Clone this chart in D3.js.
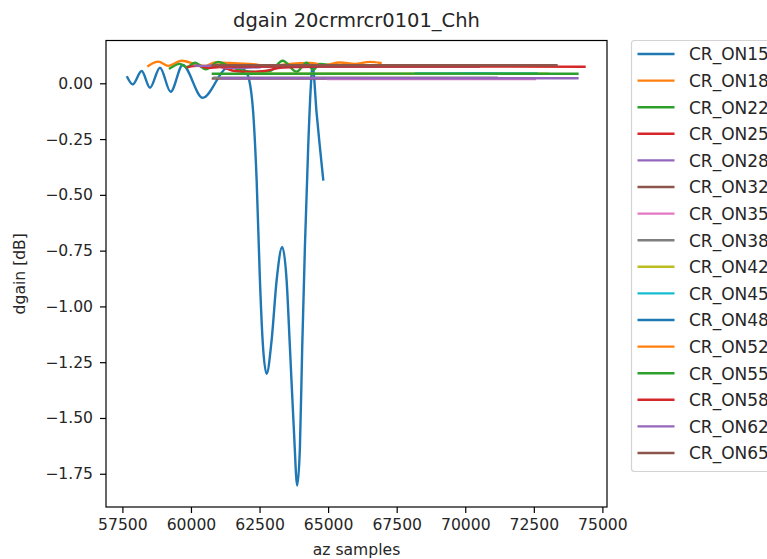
<!DOCTYPE html>
<html>
<head>
<meta charset="utf-8">
<script src="https://cdn.jsdelivr.net/npm/d3@7"></script>
<style>
  html, body { margin: 0; padding: 0; background: #fff; }
  svg { display: block; font-family: "DejaVu Sans", sans-serif; }
</style>
</head>
<body>
<svg id="chart" width="767" height="559"></svg>
<script>
// Gain difference per corner reflector, [az sample, dgain dB]
const cr15 = [[57679,0.027],[57875,-0.005],[58203,0.055],[58506,-0.020],[58870,0.070],[59260,-0.038],
  [59697,0.082],[60426,-0.065],[61301,0.069],[61712,0.078],[62029,0.046],[62124,0.015],[62270,-0.133],
  [62394,-0.434],[62514,-0.883],[62612,-1.152],[62758,-1.302],[62940,-1.152],[63123,-0.883],[63327,-0.733],
  [63487,-0.883],[63607,-1.182],[63753,-1.556],[63873,-1.803],[63972,-1.631],[64056,-1.182],[64154,-0.733],
  [64274,-0.285],[64362,-0.030],[64435,0.078],[64580,-0.133],[64700,-0.285],[64821,-0.431]];
const cr18 = [[58444,0.078],[58808,0.097],[59173,0.078],[59661,0.101],[60146,0.087],[60510,0.078],
  [60874,0.093],[61421,0.091],[62150,0.087],[62878,0.078],[63607,0.087],[64336,0.091],[64882,0.082],
  [65429,0.093],[65975,0.087],[66522,0.096],[66912,0.091]];
const cr22 = [[59235,0.067],[59599,0.087],[59843,0.072],[60146,0.092],[60546,0.063],[60994,0.096],
  [61348,0.078],[61785,0.060],[62332,0.051],[62878,0.055],[63341,0.101],[63851,0.052],[64216,0.092],
  [64457,0.060],[64700,0.087],[65000,0.082]];
const cr25 = [[59890,0.073],[60255,0.078],[60619,0.069],[61056,0.073],[61603,0.055],[62150,0.051],
  [62696,0.055],[63243,0.069],[63790,0.073],[64500,0.074]];
const cr28 = [[60146,0.079],[60510,0.078],[60802,0.080],[61130,0.073],[61603,0.069],[62500,0.072]];
const cr32 = [[60800,0.0215],[64500,0.0212],[68000,0.0210]];
const cr35 = [[65000,0.0185],[68800,0.0187],[72535,0.0185]];
const cr38 = [[60850,0.0256],[66000,0.0254],[71140,0.0255]];
const cr42 = [[62000,0.0430],[67500,0.0431],[73000,0.0430]];
const cr45 = [[68200,0.0446],[70400,0.0447],[72600,0.0446]];
const cr48 = [[61500,0.0745],[66000,0.0746],[70500,0.0745]];
const cr52 = [[61000,0.0810],[65000,0.0811],[69000,0.0810]];
const cr55 = [[60800,0.0430],[67400,0.0432],[74090,0.0430]];
const cr58 = [[60800,0.0745],[67600,0.0747],[74348,0.0744]];
const cr62 = [[61130,0.0224],[67600,0.0226],[74090,0.0224]];
const cr65 = [[60800,0.0810],[67000,0.0812],[73326,0.0810]];

const seriesNames = ["CR_ON15","CR_ON18","CR_ON22","CR_ON25","CR_ON28","CR_ON32","CR_ON35","CR_ON38",
  "CR_ON42","CR_ON45","CR_ON48","CR_ON52","CR_ON55","CR_ON58","CR_ON62","CR_ON65"];
const seriesValues = [cr15, cr18, cr22, cr25, cr28, cr32, cr35, cr38, cr42, cr45, cr48, cr52, cr55, cr58, cr62, cr65];

const xTicks = [57500, 60000, 62500, 65000, 67500, 70000, 72500, 75000];
const yTicks = [0, -0.25, -0.5, -0.75, -1.0, -1.25, -1.5, -1.75];
const titleText = "dgain 20crmrcr0101_Chh";
const xLabel = "az samples";
const yLabel = "dgain [dB]";

const palette = ["#1f77b4","#ff7f0e","#2ca02c","#d62728","#9467bd","#8c564b","#e377c2","#7f7f7f","#bcbd22","#17becf"];

const svg = d3.select("#chart");
const plot = { left: 106, right: 607, top: 40.5, bottom: 507 };

const x = d3.scaleLinear().domain([56902, 75168]).range([plot.left, plot.right]);
const y = d3.scaleLinear().domain([-1.899, 0.1918]).range([plot.bottom, plot.top]);

const color = i => palette[i % palette.length];

// clip to axes area
svg.append("defs").append("clipPath").attr("id", "plotClip")
  .append("rect").attr("x", plot.left).attr("y", plot.top)
  .attr("width", plot.right - plot.left).attr("height", plot.bottom - plot.top);

const line = d3.line().x(d => x(d[0])).y(d => y(d[1])).curve(d3.curveMonotoneX);

svg.append("g").attr("clip-path", "url(#plotClip)")
  .selectAll("path").data(seriesValues).join("path")
  .attr("d", line)
  .attr("fill", "none")
  .attr("stroke", (d, i) => color(i))
  .attr("stroke-width", 2.4)
  .attr("stroke-linejoin", "round")
  .attr("stroke-linecap", "square");

// axes
const fmtY = v => (v < 0 ? "\u2212" : "") + Math.abs(v).toFixed(2);
const xAxis = d3.axisBottom(x).tickValues(xTicks).tickFormat(d3.format("d")).tickSize(6).tickPadding(6);
const yAxis = d3.axisLeft(y).tickValues(yTicks).tickFormat(fmtY).tickSize(6).tickPadding(7);

const gx = svg.append("g").attr("transform", `translate(0,${plot.bottom})`).call(xAxis);
const gy = svg.append("g").attr("transform", `translate(${plot.left},0)`).call(yAxis);
[gx, gy].forEach(g => {
  g.select(".domain").remove();
  g.selectAll(".tick line").attr("stroke", "#000").attr("stroke-width", 1.2);
  g.selectAll(".tick text").attr("fill", "#262626").attr("font-size", "15.6px")
    .attr("font-family", "DejaVu Sans");
});

// frame
svg.append("rect").attr("x", plot.left).attr("y", plot.top)
  .attr("width", plot.right - plot.left).attr("height", plot.bottom - plot.top)
  .attr("fill", "none").attr("stroke", "#000").attr("stroke-width", 1.2);

// title and axis labels
svg.append("text").attr("x", (plot.left + plot.right) / 2).attr("y", 27)
  .attr("text-anchor", "middle").attr("font-size", "19.5px").attr("fill", "#262626").text(titleText);
svg.append("text").attr("x", (plot.left + plot.right) / 2).attr("y", 555)
  .attr("text-anchor", "middle").attr("font-size", "15.6px").attr("fill", "#262626").text(xLabel);
svg.append("text").attr("transform", `translate(25,${(plot.top + plot.bottom) / 2}) rotate(-90)`)
  .attr("text-anchor", "middle").attr("font-size", "15.6px").attr("fill", "#262626").text(yLabel);

// legend
const legend = svg.append("g");
legend.append("rect").attr("x", 631.5).attr("y", 40.5).attr("width", 200).attr("height", 431)
  .attr("rx", 3).attr("fill", "#fff").attr("fill-opacity", 0.8)
  .attr("stroke", "#d3d3d3").attr("stroke-width", 1.2);
const rowY = d3.scaleLinear().domain([0, 15]).range([54, 453]);
const rows = legend.selectAll("g.row").data(seriesNames).join("g").attr("class", "row")
  .attr("transform", (d, i) => `translate(0,${rowY(i)})`);
rows.append("line").attr("x1", 637.5).attr("x2", 674.5).attr("y1", 0).attr("y2", 0)
  .attr("stroke", (d, i) => color(i)).attr("stroke-width", 2.4);
rows.append("text").attr("x", 689).attr("y", 6.3).attr("font-size", "17px").attr("fill", "#262626")
  .text(d => d);
</script>
</body>
</html>
